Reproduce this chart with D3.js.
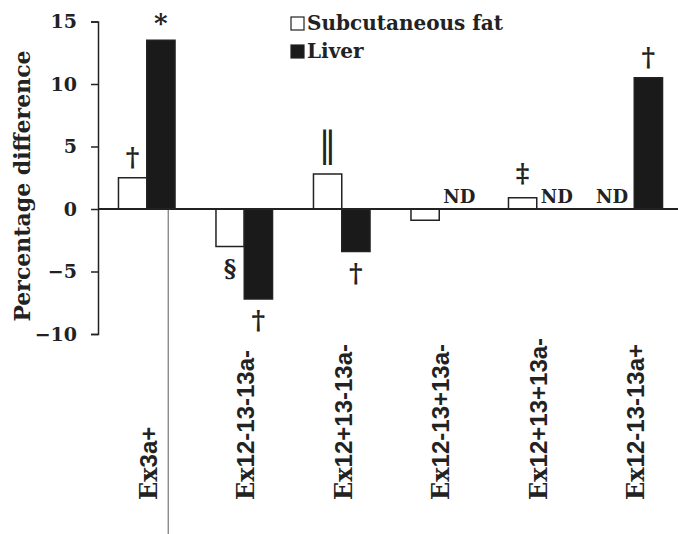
<!DOCTYPE html>
<html>
<head>
<meta charset="utf-8">
<script src="https://cdn.jsdelivr.net/npm/d3@7"></script>
<style>
  body { margin: 0; background: #fff; }
  svg { display: block; }
</style>
</head>
<body>
<div id="chart"></div>
<script>
const categories = ["Ex3a+", "Ex12-13-13a-", "Ex12+13-13a-", "Ex12-13+13a-", "Ex12+13+13a-", "Ex12-13-13a+"];
const series = ["Subcutaneous fat", "Liver"];
// null = ND (not detected)
const subcutaneous = [2.5, -3.0, 2.8, -0.9, 0.9, null];
const liver = [13.5, -7.2, -3.4, null, null, 10.5];
const yTicks = [-10, -5, 0, 5, 10, 15];
// significance marks: [category index, series index, symbol]
const marks = [
  [0, 0, "\u2020"],
  [0, 1, "*"],
  [1, 0, "\u00a7"],
  [1, 1, "\u2020"],
  [2, 0, "\u2016"],
  [2, 1, "\u2020"],
  [4, 0, "\u2021"],
  [5, 1, "\u2020"]
];

const width = 678, height = 534;
const serif = "'DejaVu Serif', serif";
const sans = "'Liberation Sans', Arial, sans-serif";
const ink = "#222";

const svg = d3.select("#chart").append("svg")
    .attr("width", width)
    .attr("height", height);

const y = d3.scaleLinear().domain([-10, 15]).range([334, 21.5]);

const x0 = d3.scaleBand()
    .domain(categories)
    .range([98, 683])
    .paddingInner(0.42)
    .paddingOuter(0.21);

const x1 = d3.scaleBand()
    .domain(series)
    .range([0, x0.bandwidth()]);

const values = [subcutaneous, liver];
const fills = ["#fff", "#1a1a1a"];

// y axis
const yAxis = svg.append("g")
    .attr("transform", "translate(98,0)")
    .call(d3.axisLeft(y).tickValues(yTicks).tickSizeOuter(0).tickSize(7).tickPadding(14));
yAxis.select(".domain").attr("stroke", ink).attr("stroke-width", 1.5);
yAxis.selectAll(".tick line").attr("stroke", ink).attr("stroke-width", 1.5);
yAxis.selectAll(".tick text")
    .attr("font-family", serif)
    .attr("font-weight", "bold")
    .attr("font-size", 19)
    .attr("fill", ink);

// y title
svg.append("text")
    .attr("transform", `translate(30,186) rotate(-90)`)
    .attr("text-anchor", "middle")
    .attr("font-family", serif)
    .attr("font-weight", "bold")
    .attr("font-size", 22)
    .attr("fill", ink)
    .text("Percentage difference");

// separator line below the first group
const sepX = x0(categories[0]) + x0.bandwidth() * 0.88;
svg.append("line")
    .attr("x1", sepX).attr("x2", sepX)
    .attr("y1", y(0)).attr("y2", height)
    .attr("stroke", "#777")
    .attr("stroke-width", 1.2);

// bars
series.forEach((s, si) => {
  svg.append("g")
    .selectAll("rect")
    .data(categories.map((c, i) => ({c, v: values[si][i]})).filter(d => d.v !== null))
    .join("rect")
      .attr("x", d => x0(d.c) + x1(s))
      .attr("width", x1.bandwidth())
      .attr("y", d => y(Math.max(0, d.v)))
      .attr("height", d => Math.abs(y(d.v) - y(0)))
      .attr("fill", fills[si])
      .attr("stroke", ink)
      .attr("stroke-width", 1.5);
});

// zero line
svg.append("line")
    .attr("x1", 98).attr("x2", width)
    .attr("y1", y(0)).attr("y2", y(0))
    .attr("stroke", ink)
    .attr("stroke-width", 2);

// ND labels
series.forEach((s, si) => {
  categories.forEach((c, i) => {
    if (values[si][i] === null) {
      svg.append("text")
        .attr("x", x0(c) + x1(s) + x1.bandwidth() / 2 + (si === 0 ? -8 : 6))
        .attr("y", y(0) - 6)
        .attr("text-anchor", "middle")
        .attr("font-family", serif)
        .attr("font-weight", "bold")
        .attr("font-size", 18)
        .attr("fill", ink)
        .text("ND");
    }
  });
});

// significance marks (gap from bar end to symbol centre)
const gap = {"\u2020": 21, "*": 17, "\u00a7": 22, "\u2016": 30, "\u2021": 25};
const symSize = {"\u2020": 26, "*": 26, "\u00a7": 24, "\u2016": 36, "\u2021": 26};
marks.forEach(([ci, si, sym]) => {
  const v = values[si][ci];
  const cx = x0(categories[ci]) + x1(series[si]) + x1.bandwidth() / 2;
  const cy = v >= 0 ? y(v) - gap[sym] : y(v) + gap[sym];
  svg.append("text")
    .attr("x", cx)
    .attr("y", cy)
    .attr("text-anchor", "middle")
    .attr("dominant-baseline", "central")
    .attr("font-family", serif)
    .attr("font-weight", sym === "\u2016" ? "normal" : "bold")
    .attr("font-size", symSize[sym])
    .attr("fill", ink)
    .text(sym);
});

// x labels (rotated)
categories.forEach(c => {
  const t = svg.append("text")
    .attr("transform", `translate(${x0(c) + x0.bandwidth() / 2 + 10},500) rotate(-90)`)
    .attr("text-anchor", "start")
    .attr("font-weight", "bold")
    .attr("font-size", 24)
    .attr("fill", ink);
  t.append("tspan").attr("font-family", serif).text(c.slice(0, 2));
  t.append("tspan").attr("font-family", sans).text(c.slice(2));
});

// legend
const legend = svg.append("g").attr("transform", "translate(291,0)");
series.forEach((s, si) => {
  legend.append("rect")
    .attr("x", 0).attr("y", 17 + si * 28)
    .attr("width", 13).attr("height", 13)
    .attr("fill", fills[si])
    .attr("stroke", ink)
    .attr("stroke-width", 1.2);
  legend.append("text")
    .attr("x", 16).attr("y", 30 + si * 28)
    .attr("font-family", serif)
    .attr("font-weight", "bold")
    .attr("font-size", 20)
    .attr("fill", ink)
    .text(s);
});
</script>
</body>
</html>
